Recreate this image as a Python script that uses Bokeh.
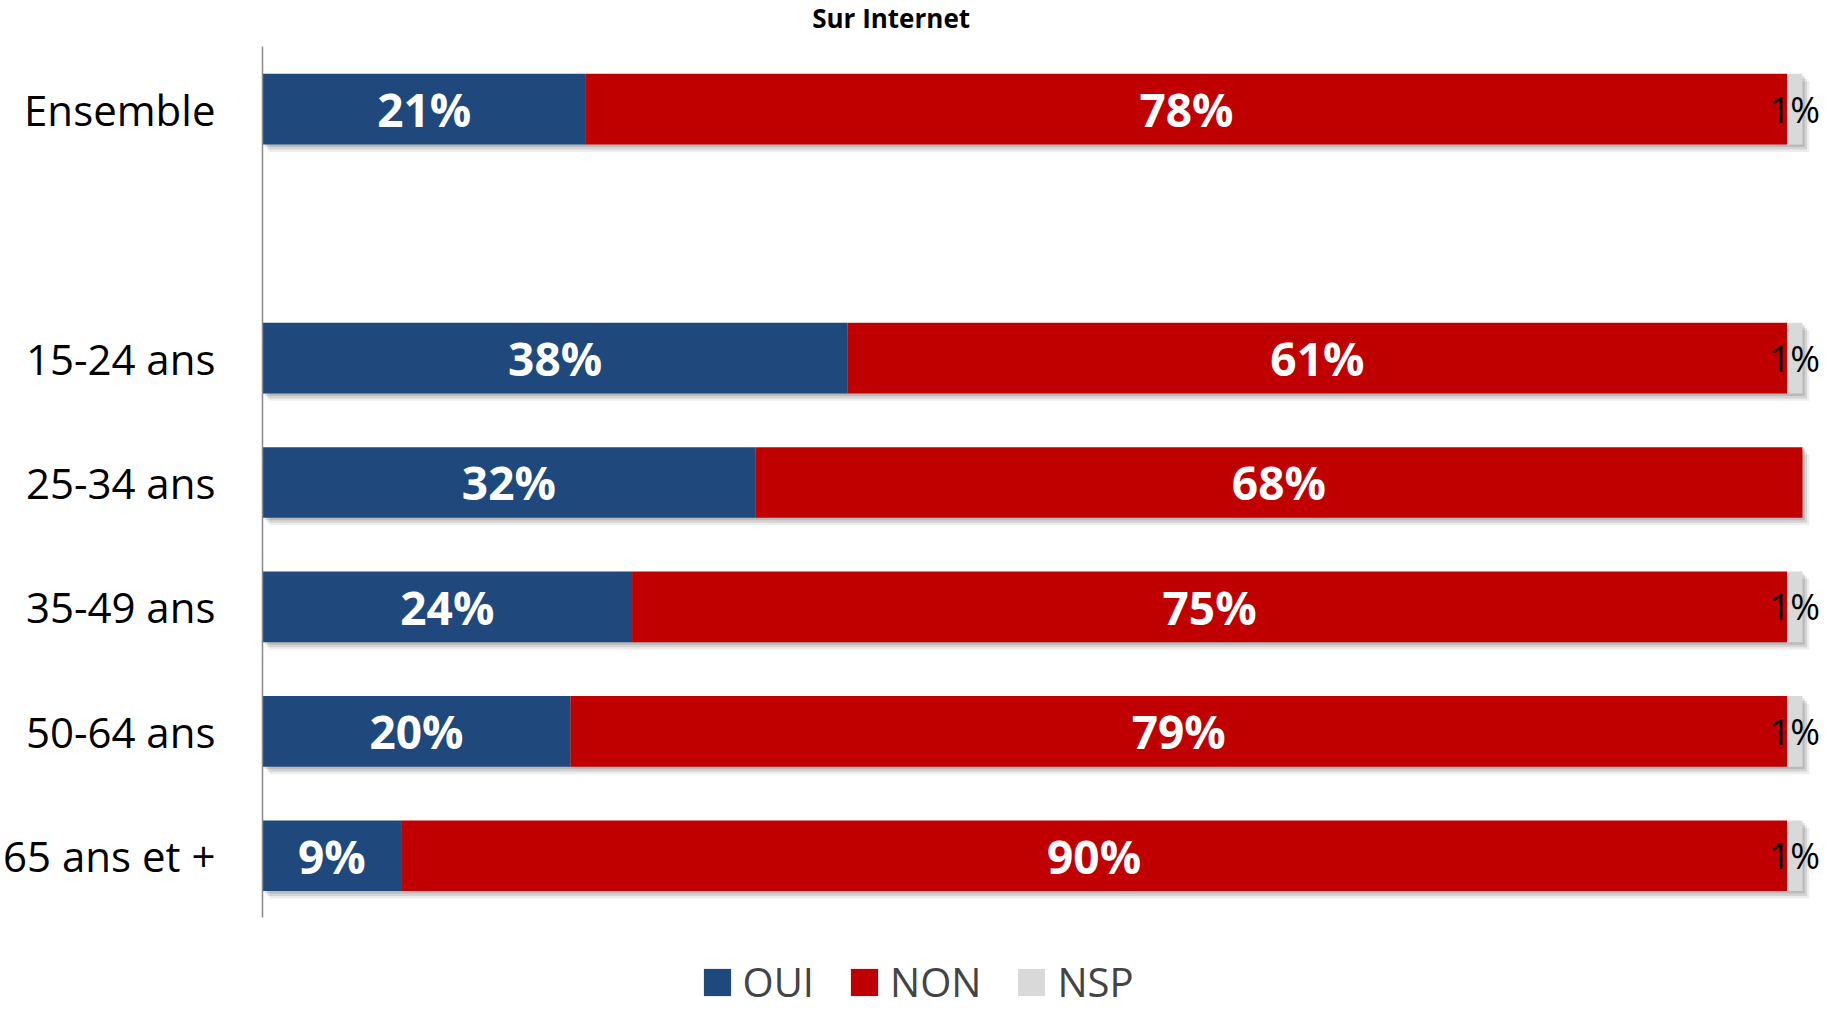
from bokeh.plotting import figure
from bokeh.models import Range1d, ColumnDataSource, Legend, LegendItem, FixedTicker, Label
from bokeh.embed import file_html
from bokeh.resources import INLINE
from bokeh.core.properties import value

# ---- data ----
title_text = "Sur Internet"
categories = ["Ensemble", "15-24 ans", "25-34 ans", "35-49 ans", "50-64 ans", "65 ans et +"]
oui = [21, 38, 32, 24, 20, 9]
non = [78, 61, 68, 75, 79, 90]
nsp = [1, 1, 0, 1, 1, 1]
series_names = ["OUI", "NON", "NSP"]
colors = ["#1F497D", "#C00000", "#D9D9D9"]

# ---- derived: row slots (one empty slot after "Ensemble") ----
BLANK = None
slots = [categories[0], BLANK] + categories[1:]
n_slots = len(slots)
pos_of = {c: n_slots - 1 - i for i, c in enumerate(slots) if c is not None}
ypos = [pos_of[c] for c in categories]

oui_end = list(oui)
non_end = [a + b for a, b in zip(oui, non)]
tot_end = [a + b + c for a, b, c in zip(oui, non, nsp)]

src = ColumnDataSource(dict(
    y=ypos,
    oui_end=oui_end, non_end=non_end, tot_end=tot_end,
    oui_mid=[v / 2 for v in oui],
    non_mid=[a + b / 2 for a, b in zip(oui, non)],
    oui_lbl=[f"{v}%" for v in oui],
    non_lbl=[f"{v}%" for v in non],
))
nsp_idx = [i for i, v in enumerate(nsp) if v > 0]
nsp_src = ColumnDataSource(dict(
    y=[ypos[i] for i in nsp_idx],
    mid=[non_end[i] + nsp[i] / 2 for i in nsp_idx],
    lbl=[f"{nsp[i]}%" for i in nsp_idx],
))

FONT = "Open Sans"
BAR_H = 0.568
Y_TOP, Y_BOT = n_slots - 1 + 0.8736, -1.2354
X_END = 101.56

p = figure(width=1826, height=1009, title=None,
           y_range=Range1d(Y_BOT, Y_TOP), x_range=Range1d(0, X_END),
           output_backend="svg", toolbar_location=None,
           min_border_left=261, min_border_right=0,
           min_border_top=0, min_border_bottom=0)

p.outline_line_color = None
p.xgrid.visible = False
p.ygrid.visible = False
p.xaxis.visible = False

# soft shadow under each bar
for k, (dy, dx, a) in enumerate([(-0.02, 0.15, 0.12), (-0.04, 0.30, 0.10), (-0.06, 0.45, 0.07)]):
    src.data[f"sy{k}"] = [v + dy for v in ypos]
    src.data[f"sr{k}"] = [v + dx for v in tot_end]
    p.hbar(y=f"sy{k}", left=dx, right=f"sr{k}", height=BAR_H, source=src,
           fill_color="black", fill_alpha=a, line_color=None)

r_oui = p.hbar(y="y", left=0, right="oui_end", height=BAR_H, source=src,
               fill_color=colors[0], line_color=None)
r_non = p.hbar(y="y", left="oui_end", right="non_end", height=BAR_H, source=src,
               fill_color=colors[1], line_color=None)
r_nsp = p.hbar(y="y", left="non_end", right="tot_end", height=BAR_H, source=src,
               fill_color=colors[2], line_color=None)

p.text(x="oui_mid", y="y", text="oui_lbl", source=src, text_align="center",
       text_baseline="middle", text_color="white", text_font=value(FONT),
       text_font_style="bold", text_font_size="46px")
p.text(x="non_mid", y="y", text="non_lbl", source=src, text_align="center",
       text_baseline="middle", text_color="white", text_font=value(FONT),
       text_font_style="bold", text_font_size="46px")
p.text(x="mid", y="y", text="lbl", source=nsp_src, text_align="center",
       text_baseline="middle", text_color="black", text_font=value(FONT),
       text_font_size="36px")

ax = p.yaxis[0]
ax.ticker = FixedTicker(ticks=ypos)
ax.major_label_overrides = {y: c for y, c in zip(ypos, categories)}
ax.bounds = (-0.5, n_slots - 0.5)
ax.axis_line_color = "#898989"
ax.axis_line_width = 1.5
ax.major_tick_line_color = None
ax.minor_tick_line_color = None
ax.major_tick_out = 0
ax.major_tick_in = 0
ax.major_label_standoff = 47
ax.major_label_text_font = FONT
ax.major_label_text_font_size = "42px"
ax.major_label_text_color = "black"

# chart title (placed above the top row, inside the plot area)
px_per_y = 1009 / (Y_TOP - Y_BOT)
px_per_x = (1826 - 261) / X_END
title = Label(x=(890 - 261) / px_per_x, y=Y_TOP - 17 / px_per_y, text=title_text,
              text_align="center", text_baseline="middle", text_font=FONT,
              text_font_size="26px", text_font_style="bold", text_color="black")
p.add_layout(title)

legend = Legend(items=[LegendItem(label=series_names[0], renderers=[r_oui]),
                       LegendItem(label=series_names[1], renderers=[r_non]),
                       LegendItem(label=series_names[2], renderers=[r_nsp])],
                orientation="horizontal", location=(437.6, 0),
                glyph_width=34, glyph_height=34, label_standoff=9, spacing=33,
                label_text_font=FONT, label_text_font_size="40px",
                padding=0, margin=0, border_line_color=None, background_fill_alpha=0)
p.add_layout(legend, "center")

open("out.html", "w").write(file_html(p, INLINE))
